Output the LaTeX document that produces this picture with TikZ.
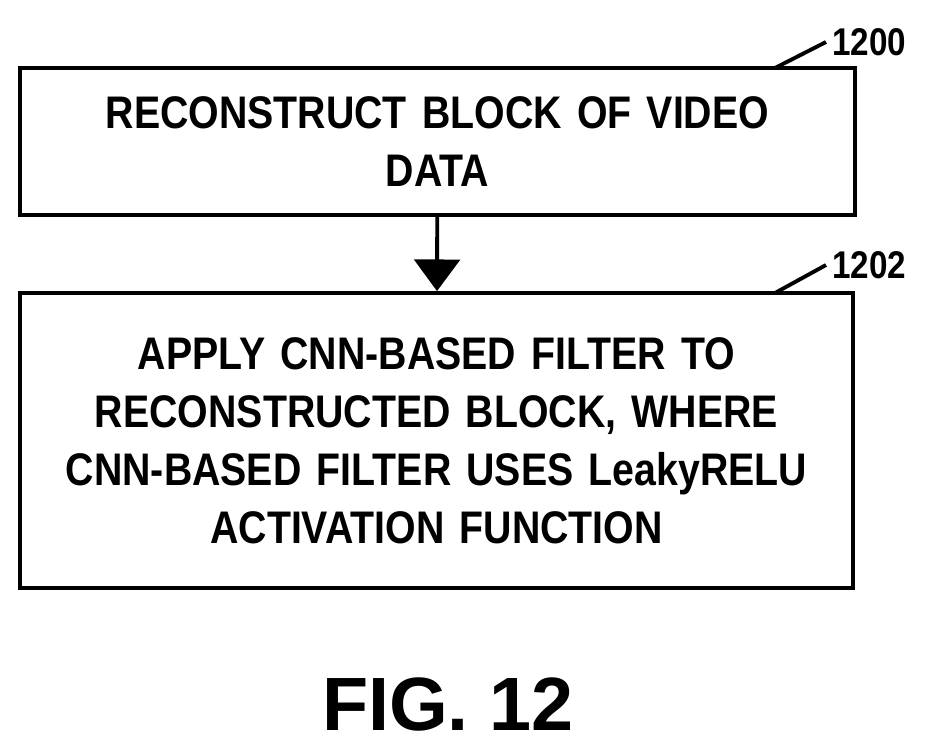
\documentclass[tikz,border=0pt]{standalone}
\usepackage{fontspec}
\setmainfont{Liberation Sans}[FakeStretch=0.86]
\newfontfamily\figfont{Liberation Sans}
\usetikzlibrary{arrows.meta,positioning}
\begin{document}
\begin{tikzpicture}[x=0.02cm,y=-0.02cm]
            % Estilos
            \tikzset{stepbox/.style = {rectangle, draw, line width=2.2pt, text width=15.5cm, align=center,
              font=\bfseries\fontsize{26}{33}\selectfont, inner sep=0pt},
              ref/.style = {font=\bfseries\fontsize{22}{26}\selectfont, anchor=west}}
            \useasboundingbox (0,0) rectangle (941,751);

            \node [stepbox, minimum width=16.7cm, minimum height=2.94cm] (recon) at (437.5,141.5) {RECONSTRUCT BLOCK OF VIDEO\\DATA};
            \node [stepbox, minimum width=16.66cm, minimum height=5.9cm] (filter) at (436.5,440.5) {APPLY CNN-BASED FILTER TO\\RECONSTRUCTED BLOCK, WHERE\\CNN-BASED FILTER USES LeakyRELU\\ACTIVATION FUNCTION};

            \draw [line width=2.2pt, -{Triangle[length=18pt,width=26pt]}] (recon) -- (filter);

            \node [ref] (n1200) at (826,42) {1200};
            \node [ref] (n1202) at (826,265) {1202};
            \draw [line width=2.2pt] (775,68) -- (n1200.west);
            \draw [line width=2.2pt] (775,293) -- (n1202.west);

            \node [font=\figfont\bfseries\fontsize{43}{45}\selectfont] (fig) at (448,704) {FIG. 12};
      \end{tikzpicture}
\end{document}
